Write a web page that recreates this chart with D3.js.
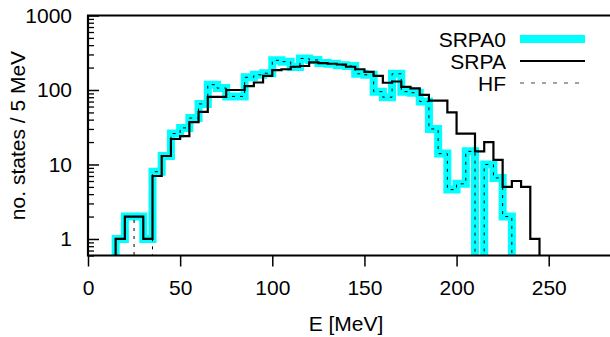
<!DOCTYPE html>
<html>
<head>
<meta charset="utf-8">
<script src="https://cdn.jsdelivr.net/npm/d3@7"></script>
<style>
  body { margin: 0; background: #fff; }
  svg { display: block; font-family: "Liberation Sans", Arial, sans-serif; }
</style>
</head>
<body>
<div id="chart"></div>
<script>
// bin lower edges (MeV), 5 MeV wide
var binStart = [10, 15, 20, 25, 30, 35, 40, 45, 50, 55, 60, 65, 70, 75, 80, 85, 90, 95,
  100, 105, 110, 115, 120, 125, 130, 135, 140, 145, 150, 155, 160, 165, 170, 175,
  180, 185, 190, 195, 200, 205, 210, 215, 220, 225, 230, 235, 240, 245];

var srpa0 = [0, 1, 2, 2, 1, 8, 13, 26, 31, 42, 65, 118, 106, 82, 82, 148, 160, 168,
  250, 240, 203, 265, 253, 230, 225, 215, 210, 165, 160, 95, 80, 165, 95, 92,
  70, 30, 14, 4.6, 5.5, 15, 0, 10, 6.6, 2, 0, 0, 0, 0];

var srpa = [0, 1, 2, 2, 1, 7, 13, 22, 24, 37, 51, 81, 81, 100, 100, 113, 126, 155,
  185, 190, 205, 210, 235, 230, 225, 220, 205, 190, 175, 155, 125, 130, 110, 105,
  86, 72, 72, 50, 26, 26, 15, 20, 11.5, 5, 6, 5, 1, 0];

var hf = [0, 1, 2, 0, 0, 8, 13, 26, 31, 42, 65, 118, 106, 82, 82, 148, 160, 168,
  250, 240, 203, 265, 253, 230, 225, 215, 210, 165, 160, 95, 80, 165, 95, 92,
  70, 30, 14, 4.6, 5.5, 15, 0, 10, 6.6, 2, 0, 0, 0, 0];

var xTicks = [0, 50, 100, 150, 200, 250];
var yTicks = [1, 10, 100, 1000];
var legendNames = ["SRPA0", "SRPA", "HF"];

var width = 610, height = 337;
var pLeft = 88, pRight = 604, pTop = 15.5, pBottom = 255.5;

var svg = d3.select("#chart")
            .append("svg")
            .attr("width", width)
            .attr("height", height);

var x = d3.scaleLinear()
          .domain([0, 280])
          .range([pLeft, pRight]);

var y = d3.scaleLog()
          .domain([0.6, 1000])
          .range([pBottom, pTop]);

svg.append("clipPath")
   .attr("id", "plotclip")
   .append("rect")
   .attr("x", pLeft)
   .attr("y", pTop)
   .attr("width", width - pLeft)
   .attr("height", pBottom - pTop);

// turn a series into step points, zeros drop below the axis
function steps(vals) {
  var pts = [];
  for (var i = 0; i < binStart.length; i++) {
    pts.push({x: binStart[i], y: vals[i] > 0 ? vals[i] : 0.1});
  }
  pts.push({x: binStart[binStart.length - 1] + 5, y: 0.1});
  return pts;
}

var line = d3.line().curve(d3.curveStepAfter)
  .x(function(d) { return x(d.x); })
  .y(function(d) { return y(d.y); });

var plot = svg.append("g").attr("clip-path", "url(#plotclip)");

plot.append("path")
    .datum(steps(srpa0))
    .attr("d", line)
    .attr("fill", "none")
    .attr("stroke", "#00ffff")
    .attr("stroke-width", 8)
    .attr("stroke-linejoin", "miter");

plot.append("path")
    .datum(steps(srpa))
    .attr("d", line)
    .attr("fill", "none")
    .attr("stroke", "#000")
    .attr("stroke-width", 2.2);

plot.append("path")
    .datum(steps(hf))
    .attr("d", line)
    .attr("fill", "none")
    .attr("stroke", "#000")
    .attr("stroke-width", 1)
    .style("stroke-dasharray", "3,5");

// y axis: major + minor ticks pointing inward
var minor = [];
[0.1, 1, 10, 100].forEach(function(d) {
  for (var k = 2; k <= 9; k++) {
    var v = d * k;
    if (v >= 0.6 && v < 1000) minor.push(v);
  }
});

svg.append("g")
   .attr("transform", "translate(" + pLeft + ",0)")
   .call(d3.axisLeft(y).tickValues(minor).tickSize(-6).tickFormat(""))
   .call(function(g) { g.select(".domain").remove(); })
   .selectAll("line").attr("stroke-width", 1.3);

var yAxis = svg.append("g")
   .attr("transform", "translate(" + pLeft + ",0)")
   .call(d3.axisLeft(y).tickValues(yTicks).tickSize(-11).tickPadding(16)
     .tickFormat(d3.format("d")));
yAxis.select(".domain").remove();
yAxis.selectAll("line").attr("stroke-width", 1.5);
yAxis.selectAll("text")
     .attr("font-size", 21)
     .attr("font-family", "Liberation Sans, Arial, sans-serif")
     .attr("fill", "#000");

// x axis: ticks pointing outward
var xAxis = svg.append("g")
   .attr("transform", "translate(0," + pBottom + ")")
   .call(d3.axisBottom(x).tickValues(xTicks).tickSize(11).tickPadding(14));
xAxis.select(".domain").remove();
xAxis.selectAll("line").attr("stroke-width", 1.5);
xAxis.selectAll("text")
     .attr("font-size", 21)
     .attr("font-family", "Liberation Sans, Arial, sans-serif")
     .attr("fill", "#000");

// frame
svg.append("path")
   .attr("d", "M" + pLeft + "," + pTop + "H" + width + "M" + pLeft + "," + (pTop - 1) + "V" + (pBottom + 1) +
     "M" + pLeft + "," + pBottom + "H" + width)
   .attr("stroke", "#000")
   .attr("stroke-width", 2.2)
   .attr("fill", "none");

// axis labels
svg.append("text")
   .attr("x", (pLeft + pRight) / 2)
   .attr("y", 331)
   .attr("text-anchor", "middle")
   .attr("font-size", 21)
   .text("E [MeV]");

svg.append("text")
   .attr("transform", "translate(25," + ((pTop + pBottom) / 2) + ") rotate(-90)")
   .attr("text-anchor", "middle")
   .attr("font-size", 21)
   .text("no. states / 5 MeV");

// legend
var legendY = [39, 61, 83];
var legend = svg.append("g");
legendNames.forEach(function(name, i) {
  legend.append("text")
        .attr("x", 506)
        .attr("y", legendY[i] + 7.5)
        .attr("text-anchor", "end")
        .attr("font-size", 21)
        .text(name);
});
legend.append("line")
      .attr("x1", 520).attr("x2", 585).attr("y1", legendY[0]).attr("y2", legendY[0])
      .attr("stroke", "#00ffff").attr("stroke-width", 8);
legend.append("line")
      .attr("x1", 520).attr("x2", 585).attr("y1", legendY[1]).attr("y2", legendY[1])
      .attr("stroke", "#000").attr("stroke-width", 2.2);
legend.append("line")
      .attr("x1", 520).attr("x2", 585).attr("y1", legendY[2]).attr("y2", legendY[2])
      .attr("stroke", "#444").attr("stroke-width", 1)
      .style("stroke-dasharray", "4,7");
</script>
</body>
</html>
